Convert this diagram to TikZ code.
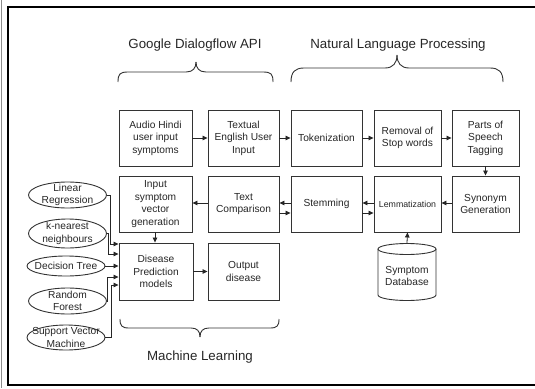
\documentclass[tikz,border=0pt]{standalone}
\usepackage{fontspec}
\setmainfont{Liberation Sans}
\usetikzlibrary{shapes.geometric,arrows.meta}
\begin{document}
\begin{tikzpicture}[x=1pt,y=-1pt,
  box/.style={draw=black!80,line width=0.9pt,minimum width=70pt,minimum height=56pt,inner sep=1pt,align=center,font=\fontsize{10.2}{12.6}\selectfont,text=black!85},
  ell/.style={draw=black!80,line width=0.9pt,ellipse,inner sep=0pt,minimum width=78pt,minimum height=26pt},
  elltext/.style={align=center,font=\fontsize{10.2}{12.6}\selectfont,text=black!85,inner sep=0pt},
  title/.style={font=\fontsize{13.3}{16}\selectfont,text=black!85},
  arr/.style={draw=black!85,line width=0.8pt,-{Triangle[length=5pt,width=4.5pt]}},
  brace/.style={draw=black!80,line width=0.9pt},
]
\useasboundingbox (0,0) rectangle (535,388);
% frame
\draw[black!45,line width=1pt] (1.2,0) -- (1.2,388);
\draw[black,line width=2.2pt] (540,6.7) -- (7.7,6.7) -- (7.7,385) -- (540,385);

% titles
\node[title] (tg) at (195,45) {Google Dialogflow API};
\node[title] (tn) at (398,45) {Natural Language Processing};
\node[title] (tm) at (200,357) {Machine Learning};

% braces
\draw[brace] (118,82) .. controls (118,74) and (120,72) .. (128,72) -- (186,72) .. controls (193,72) and (196,68) .. (196,62);
\draw[brace] (196,62) .. controls (196,68) and (199,72) .. (206,72) -- (263,72) .. controls (271,72) and (273,74) .. (273,82);
\draw[brace] (291,82) .. controls (291,72) and (295,68) .. (304,68) -- (385,68) .. controls (393,68) and (397,63) .. (397,55);
\draw[brace] (397,55) .. controls (397,63) and (401,68) .. (409,68) -- (490,68) .. controls (499,68) and (503,72) .. (503,82);
\draw[brace] (120,319) .. controls (120,326) and (122,328) .. (129,328) -- (191,328) .. controls (197,328) and (200,331) .. (200,337);
\draw[brace] (200,337) .. controls (200,331) and (203,328) .. (209,328) -- (270,328) .. controls (277,328) and (279,326) .. (279,319);

% row 1
\node[box,minimum width=73pt] (audio) at (155.5,138) {Audio Hindi\\user input\\symptoms};
\node[box,minimum width=71pt] (text) at (243.5,138) {Textual\\English User\\Input};
\node[box,minimum width=71pt] (tok) at (326.5,138) {Tokenization};
\node[box,minimum width=67pt] (rem) at (407.5,138) {Removal of\\Stop words};
\node[box,minimum width=67pt] (pos) at (485.5,138) {Parts of\\Speech\\Tagging};
% row 2
\node[box,minimum width=73pt] (vec) at (155.5,204) {Input\\symptom\\vector\\generation};
\node[box,minimum width=71pt] (tc) at (243.5,204) {Text\\Comparison};
\node[box,minimum width=71pt] (stem) at (326.5,204) {\raisebox{1.5pt}{Stemming}};
\node[box,minimum width=67pt,font=\fontsize{8.8}{10}\selectfont] (lem) at (407.5,204) {Lemmatization};
\node[box,minimum width=67pt] (syn) at (485.5,204) {Synonym\\Generation};
% row 3
\node[box,minimum width=74pt,minimum height=57pt] (dis) at (156,271.5) {Disease\\Prediction\\models};
\node[box,minimum width=71pt,minimum height=57pt] (out) at (243.5,271.5) {Output\\disease};

% database cylinder
\node[minimum width=58pt,minimum height=57pt,inner sep=0pt] (db) at (407,271.5) {};
\fill[white] (378,249) rectangle (436,295);
\draw[black!80,line width=0.9pt] (378,249) -- (378,295) arc[start angle=180,end angle=360,x radius=29pt,y radius=5.5pt] -- (436,249);
\draw[black!80,line width=0.9pt] (407,249) ellipse[x radius=29pt,y radius=5.5pt];
\node[elltext] (dbt) at (407,276) {Symptom\\Database};

% ellipses
\node[ell,label={[elltext]center:{Linear\\Regression}}] (lr) at (67.5,195) {};
\node[ell,minimum height=29pt,label={[elltext]center:{k-nearest\\neighbours}}] (knn) at (67.5,233.5) {};
\node[ell,minimum height=20pt,label={[elltext]center:{Decision Tree}}] (dt) at (66,266) {};
\node[ell,label={[elltext]center:{Random\\Forest}}] (rf) at (67.5,301) {};
\node[ell,minimum height=25pt,label={[elltext]center:{Support Vector\\Machine}}] (sv) at (66,337.5) {};

% arrows row 1
\draw[arr] (audio) -- (text);
\draw[arr] (text) -- (tok);
\draw[arr] (tok) -- (rem);
\draw[arr] (rem) -- (pos);
\draw[arr] (pos) -- (syn);
% row 2
\draw[arr] ([yshift=1pt]syn.west) -- ([yshift=1pt]lem.east);
\draw[arr] ([yshift=1pt]lem.west) -- ([yshift=1pt]stem.east);
\draw[arr] ([yshift=1pt]stem.west) -- ([yshift=1pt]tc.east);
\draw[arr] ([yshift=-9pt]tc.east) -- ([yshift=-9pt]stem.west);
\draw[arr] ([yshift=-9pt]stem.east) -- ([yshift=-9pt]lem.west);
\draw[arr] ([yshift=1pt]tc.west) -- ([yshift=1pt]vec.east);
\draw[arr] ([xshift=-0.5pt]vec.south) -- ([xshift=-1pt]dis.north);
\draw[arr] (dis) -- (out);
\draw[arr] (db.north) -- (lem.south);

% ellipse connectors
\draw[arr] (lr.east) -- (110.5,195) |- ([yshift=27.5pt]dis.west);
\draw[arr] (knn.east) -- (108,233.5) |- ([yshift=17.5pt]dis.west);
\draw[arr] (dt.east) -- (dt.east -| dis.west);
\draw[arr] (rf.east) -- (107,301) |- ([yshift=-5.5pt]dis.west);
\draw[arr] (sv.east) -- (111,337.5) |- ([yshift=-13.5pt]dis.west);
\end{tikzpicture}
\end{document}
